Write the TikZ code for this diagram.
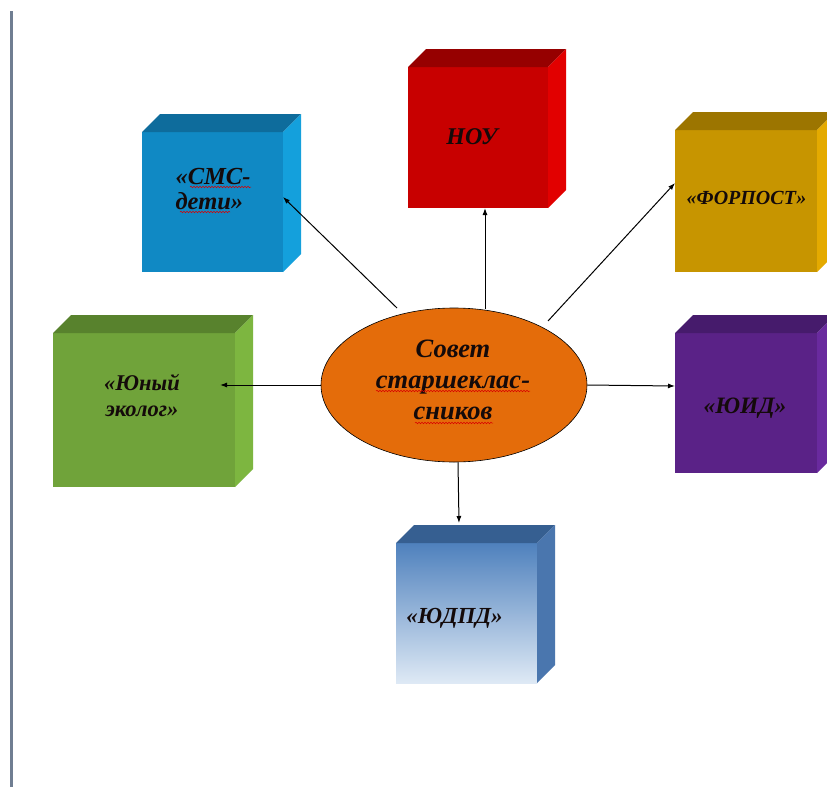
\documentclass[tikz,border=0pt]{standalone}
\usepackage{fontspec}
\setmainfont{Liberation Serif}
\usetikzlibrary{shapes.geometric,arrows.meta,calc,decorations.pathmorphing}
\definecolor{smcF}{RGB}{16,137,196}\definecolor{smcT}{RGB}{14,108,156}\definecolor{smcS}{RGB}{20,160,220}
\definecolor{noyF}{RGB}{200,0,0}\definecolor{noyT}{RGB}{150,0,0}\definecolor{noyS}{RGB}{226,0,0}
\definecolor{forpF}{RGB}{199,149,0}\definecolor{forpT}{RGB}{156,117,0}\definecolor{forpS}{RGB}{228,170,0}
\definecolor{ecoF}{RGB}{112,163,58}\definecolor{ecoT}{RGB}{88,130,45}\definecolor{ecoS}{RGB}{125,182,64}
\definecolor{yidF}{RGB}{90,34,135}\definecolor{yidT}{RGB}{70,27,108}\definecolor{yidS}{RGB}{105,42,158}
\definecolor{ydpdA}{RGB}{79,129,189}\definecolor{ydpdB}{RGB}{222,233,245}\definecolor{ydpdT}{RGB}{54,95,145}\definecolor{ydpdS}{RGB}{74,118,174}
\definecolor{ellF}{RGB}{228,108,10}
\definecolor{grayline}{RGB}{112,126,146}
\definecolor{ink}{RGB}{20,10,10}
\newcommand\drawcube[3]{%
  \fill[#2] (#1.north west) -- ++(18,-18) -- ($(#1.north east)+(18,-18)$) -- (#1.north east) -- cycle;
  \fill[#3] (#1.north east) -- ++(18,-18) -- ($(#1.south east)+(18,-18)$) -- (#1.south east) -- cycle;
}
\tikzset{
  face/.style={rectangle, inner sep=0pt, outer sep=0pt, draw=none},
  lbl/.style={text=ink, align=center, inner sep=0pt},
  arr/.style={draw=black, line width=1pt, -{Latex[length=7pt,width=5pt]}},
  squig/.style={draw=red!85!black, line width=0.5pt, decorate, decoration={snake, amplitude=0.8pt, segment length=3pt}},
}
\begin{document}
\begin{tikzpicture}[x=1pt,y=-1pt]
\useasboundingbox (0,0) rectangle (827,787);
\clip (0,0) rectangle (827,787);
\fill[white] (0,0) rectangle (827,787);
\draw[grayline, line width=3pt] (11,11) -- (11,787);

% boxes
\node[face, fill=smcF, minimum width=141pt, minimum height=140pt] (smc) at (212.5,202) {};
\drawcube{smc}{smcT}{smcS}
\node[face, fill=noyF, minimum width=140pt, minimum height=141pt] (noy) at (478,137.5) {};
\drawcube{noy}{noyT}{noyS}
\node[face, fill=forpF, minimum width=142pt, minimum height=142pt] (forp) at (746,201) {};
\drawcube{forp}{forpT}{forpS}
\node[face, fill=ecoF, minimum width=182pt, minimum height=154pt] (eco) at (144,410) {};
\drawcube{eco}{ecoT}{ecoS}
\node[face, fill=yidF, minimum width=142pt, minimum height=140pt] (yid) at (746,403) {};
\drawcube{yid}{yidT}{yidS}
\node[face, top color=ydpdA, bottom color=ydpdB, minimum width=141pt, minimum height=140pt] (ydpd) at (466.5,613) {};
\drawcube{ydpd}{ydpdT}{ydpdS}

% center ellipse
\node[ellipse, draw=black, line width=0.6pt, fill=ellF, minimum width=266pt, minimum height=154pt, inner sep=0pt] (ell) at (454,385) {};

% labels
\node[lbl, align=left, font=\bfseries\itshape\fontsize{24.5}{25}\selectfont] (smct) at (213,189.5) {«СМС-\\дети»};
\node[lbl, font=\bfseries\itshape\fontsize{24}{25}\selectfont] (noyt) at (472,137) {НОУ};
\node[lbl, font=\bfseries\itshape\fontsize{20}{25}\selectfont] (forpt) at (746.5,198) {«ФОРПОСТ»};
\node[lbl, font=\bfseries\itshape\fontsize{22.5}{26}\selectfont] (ecot) at (142,395) {«Юный\\эколог»};
\node[lbl, font=\bfseries\itshape\fontsize{23.5}{25}\selectfont] (yidt) at (745,408) {«ЮИД»};
\node[lbl, font=\bfseries\itshape\fontsize{23}{25}\selectfont] (ydpdt) at (454.5,618) {«ЮДПД»};
\node[lbl, font=\bfseries\itshape\fontsize{26.5}{31}\selectfont] (ellt) at (453,380) {Совет\\старшеклас-\\сников};

% spell-check squiggles
\coordinate (q1a) at (376,391); \coordinate (q1b) at (530,391);
\coordinate (q2a) at (415,423); \coordinate (q2b) at (493,423);
\coordinate (q3a) at (190,187); \coordinate (q3b) at (251,187);
\coordinate (q4a) at (180,212); \coordinate (q4b) at (230,212);
\draw[squig] (q1a) -- (q1b);
\draw[squig] (q2a) -- (q2b);
\draw[squig] (q3a) -- (q3b);
\draw[squig] (q4a) -- (q4b);

% connectors
\coordinate (s1) at (397,308);
\coordinate (s2) at (485,309);
\coordinate (s3) at (548,321);
\draw[arr] (s1) -- ($(smc.east)+(0,-5)$);
\draw[arr] (s2) -- ($(noy.south)+(7,0)$);
\draw[arr] (s3) -- ($(forp.west)+(0,-18)$);
\draw[arr] (ell.west) -- ($(eco.east)+(-15,-25)$);
\draw[arr] (ell.east) -- ($(yid.west)+(0,-17)$);
\draw[arr] ($(ell.south)+(4,0)$) -- ($(ydpd.north)+(-7.5,-20)$);
\end{tikzpicture}
\end{document}
